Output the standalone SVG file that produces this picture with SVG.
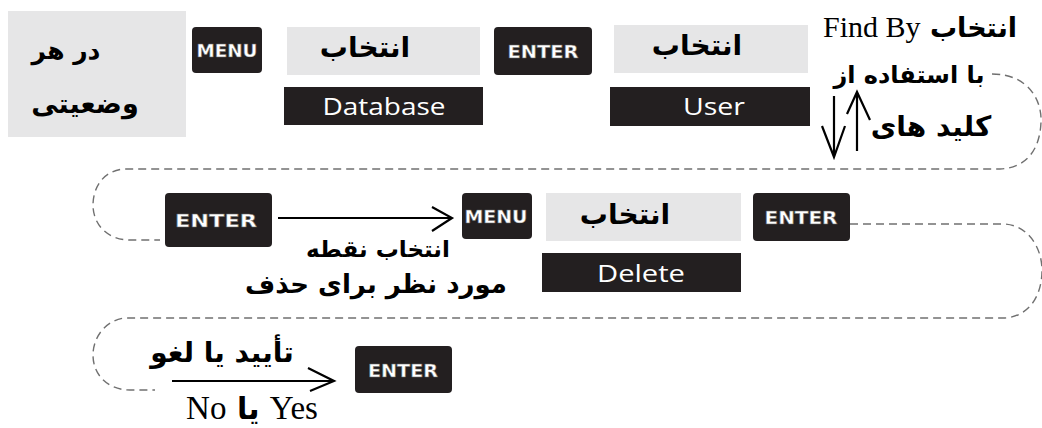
<svg xmlns="http://www.w3.org/2000/svg" width="1042" height="428" viewBox="0 0 1042 428">
<defs>
<style>
.gray{fill:#e6e6e7}
.key{fill:#231f20}
.keytxt{fill:#fff;font-family:"DejaVu Sans",sans-serif;font-weight:bold;font-size:18px;text-anchor:middle;stroke:#666;stroke-width:0.5}
.lbl{fill:#231f20}
.lbltxt{fill:#fff;font-family:"Open Sans","DejaVu Sans",sans-serif;font-size:24px;text-anchor:middle}
.fa{fill:#000;font-family:"DejaVu Sans",sans-serif;font-weight:bold;font-size:26px;text-anchor:middle}
.serif{font-family:"Liberation Serif",serif;font-weight:normal}
.dash{fill:none;stroke:#707070;stroke-width:1.4;stroke-dasharray:8 5}
.arr{fill:none;stroke:#000;stroke-width:2.2}
</style>
</defs>
<rect width="1042" height="428" fill="#fff"/>
<g id="connectors">
<path class="dash" d="M992,74 C1028,74 1042,100 1041,122 C1040,150 1026,168 1000,169 L125,169 C103,170 93,188 93,205 C93,225 108,240 130,240 L160,240"/>
<path class="dash" d="M850,224 L1005,224 C1030,226 1042,250 1042,270 C1042,295 1030,316 1005,318 L125,318 C105,320 93,338 93,355 C93,375 108,390 130,390 L155,390"/>
<path class="arr" d="M278,218 L450,218 M432,207 L452,218 L432,231"/>
<path class="arr" d="M172,381 L333,381 M308,368 L334,381 L310,391"/>
<path class="arr" d="M834,96 L834,157 M822,126 L834,157 L845,126"/>
<path class="arr" d="M857,151 L857,92 M847,114 L857,92 L870,120"/>
</g>
<g id="start">
<rect class="gray" x="8" y="11" width="178" height="126"/>
<text class="fa" x="66" y="59" direction="rtl" style="font-size:25px">در هر</text>
<text class="fa" x="85" y="113" direction="rtl" style="font-size:27px">وضعیتی</text>
</g>
<g id="menu1">
<rect class="key" x="192" y="27" width="70" height="46" rx="4"/>
<text class="keytxt" x="227" y="57" textLength="61" lengthAdjust="spacingAndGlyphs">MENU</text>
</g>
<g id="select1">
<rect class="gray" x="287" y="27" width="193" height="48"/>
<text class="fa" x="365" y="57" direction="rtl" style="font-size:28px">انتخاب</text>
</g>
<g id="database">
<rect class="lbl" x="284" y="87" width="199" height="38"/>
<text class="lbltxt" x="384" y="115" textLength="123" lengthAdjust="spacingAndGlyphs">Database</text>
</g>
<g id="enter1">
<rect class="key" x="494" y="27" width="98" height="48" rx="4"/>
<text class="keytxt" x="543" y="58" textLength="71" lengthAdjust="spacingAndGlyphs">ENTER</text>
</g>
<g id="select2">
<rect class="gray" x="614" y="25" width="194" height="48"/>
<text class="fa" x="697" y="55" direction="rtl" style="font-size:28px">انتخاب</text>
</g>
<g id="user">
<rect class="lbl" x="610" y="87" width="200" height="39"/>
<text class="lbltxt" x="714" y="115" textLength="62" lengthAdjust="spacingAndGlyphs">User</text>
</g>
<g id="findby">
<text class="fa" x="920" y="37" direction="rtl" style="font-size:27px">انتخاب <tspan class="serif" style="font-size:30px">Find By</tspan></text>
<text class="fa" x="909" y="83" direction="rtl" style="font-size:24px">با استفاده از</text>
<text class="fa" x="931" y="136" direction="rtl" style="font-size:28px">کلید های</text>
</g>
<g id="enter2">
<rect class="key" x="165" y="193" width="107" height="54" rx="4"/>
<text class="keytxt" x="216" y="227" textLength="82" lengthAdjust="spacingAndGlyphs">ENTER</text>
</g>
<g id="point-label">
<text class="fa" x="378" y="257" direction="rtl" style="font-size:23px">انتخاب نقطه</text>
<text class="fa" x="376" y="293" direction="rtl" style="font-size:26px">مورد نظر برای حذف</text>
</g>
<g id="menu2">
<rect class="key" x="462" y="193" width="70" height="46" rx="4"/>
<text class="keytxt" x="496" y="223" textLength="63" lengthAdjust="spacingAndGlyphs">MENU</text>
</g>
<g id="select3">
<rect class="gray" x="546" y="193" width="195" height="48"/>
<text class="fa" x="625" y="224" direction="rtl" style="font-size:28px">انتخاب</text>
</g>
<g id="delete">
<rect class="lbl" x="542" y="253" width="199" height="39"/>
<text class="lbltxt" x="641" y="282" textLength="88" lengthAdjust="spacingAndGlyphs">Delete</text>
</g>
<g id="enter3">
<rect class="key" x="753" y="193" width="97" height="48" rx="4"/>
<text class="keytxt" x="801" y="224" textLength="73" lengthAdjust="spacingAndGlyphs">ENTER</text>
</g>
<g id="confirm-label">
<text class="fa" x="222" y="362" direction="rtl" style="font-size:28px">تأیید یا لغو</text>
<text class="fa" x="252" y="419" direction="rtl" style="font-size:30px"><tspan class="serif" style="font-size:33px">Yes</tspan> یا <tspan class="serif" style="font-size:33px">No</tspan></text>
</g>
<g id="enter4">
<rect class="key" x="355" y="346" width="97" height="47" rx="4"/>
<text class="keytxt" x="403" y="377" textLength="70" lengthAdjust="spacingAndGlyphs">ENTER</text>
</g>
</svg>
